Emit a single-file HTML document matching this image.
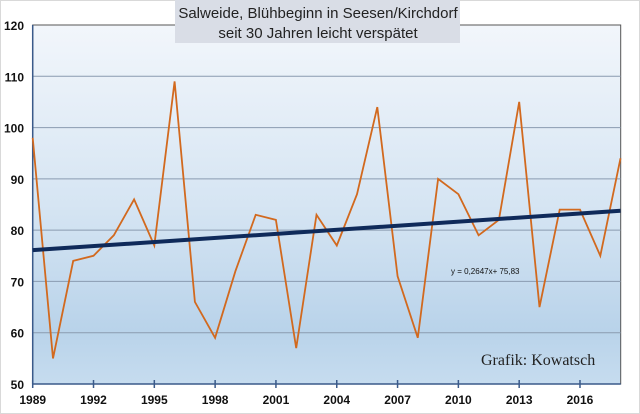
<!DOCTYPE html>
<html><head><meta charset="utf-8"><style>
html,body{margin:0;padding:0;background:#fff}
svg{display:block;font-family:"Liberation Sans",sans-serif}
</style></head><body>
<svg width="640" height="414" viewBox="0 0 640 414">
<defs><linearGradient id="bg" x1="0" y1="0" x2="0" y2="1"><stop offset="0" stop-color="#f2f6fb"/><stop offset="0.5" stop-color="#d6e5f3"/><stop offset="0.85" stop-color="#b9d3ea"/><stop offset="1" stop-color="#c6dcef"/></linearGradient></defs>
<rect x="0.5" y="0.5" width="639" height="413" fill="#fff" stroke="#d9d9d9"/>
<rect x="32.7" y="25" width="588" height="359" fill="url(#bg)" stroke="#555" stroke-width="1"/>
<g id="grid"></g><g id="axes"></g><g id="series"></g>
<rect x="175" y="0" width="285" height="43" fill="#d9dde6"/>
<text x="318" y="18" text-anchor="middle" font-size="15" fill="#222" font-family="Liberation Sans, sans-serif">Salweide, Blühbeginn in Seesen/Kirchdorf</text>
<text x="318" y="38" text-anchor="middle" font-size="15" fill="#222">seit 30 Jahren leicht verspätet</text>
<text x="481" y="365" font-size="16" fill="#222" font-family="Liberation Serif, serif">Grafik: Kowatsch</text>
<text x="451" y="274" font-size="8" fill="#111">y = 0,2647x+ 75,83</text>
</svg>
<script>
const years=[1989,1990,1991,1992,1993,1994,1995,1996,1997,1998,1999,2000,2001,2002,2003,2004,2005,2006,2007,2008,2009,2010,2011,2012,2013,2014,2015,2016,2017,2018];
const values=[98,55,74,75,79,86,77,109,66,59,72,83,82,57,83,77,87,104,71,59,90,87,79,82,105,65,84,84,75,94];
const yTicks=[50,60,70,80,90,100,110,120];
const xTickLabels=[1989,1992,1995,1998,2001,2004,2007,2010,2013,2016];
const trendSlope=0.2647, trendIntercept=75.83;
const NS='http://www.w3.org/2000/svg';
const X=y=>32.7+(y-1989)*20.27;
const Y=v=>384-(v-50)*5.1286;
function mk(t,a,p){const e=document.createElementNS(NS,t);for(const k in a)e.setAttribute(k,a[k]);p.appendChild(e);return e;}
const g=document.getElementById('grid'),ax=document.getElementById('axes'),s=document.getElementById('series');
yTicks.forEach(v=>{
 if(v>50&&v<120){const l=mk('line',{x1:32.7,x2:620.7,y1:Y(v),y2:Y(v),stroke:'#8a9bb0','stroke-width':1},g);
 
 }
 const t=mk('text',{x:24,y:Y(v)+5,'text-anchor':'end','font-size':12,'font-weight':'bold',fill:'#111'},ax);t.textContent=v;
 
 
});
const yl=mk('line',{x1:32.7,x2:32.7,y1:25,y2:384,stroke:'#3a5a8a','stroke-width':1.5},ax);


const xl=mk('line',{x1:32.7,x2:620.7,y1:384,y2:384,stroke:'#3a5a8a','stroke-width':1.5},ax);


xTickLabels.forEach(y=>{
 const tk=mk('line',{x1:X(y),x2:X(y),y1:380,y2:388,stroke:'#3a5a8a','stroke-width':1.5},ax);
 
 
 const t=mk('text',{x:X(y),y:404,'text-anchor':'middle','font-size':12,'font-weight':'bold',fill:'#111'},ax);t.textContent=y;
 
 
});
const pts=years.map((y,i)=>X(y).toFixed(1)+','+Y(values[i]).toFixed(1)).join(' ');
const pl=mk('polyline',{points:pts,fill:'none',stroke:'#d2691e','stroke-width':1.8,'stroke-linejoin':'miter'},s);


const y0=years[0],y1=years[years.length-1];
const tr=mk('line',{x1:X(y0),y1:Y(trendIntercept+trendSlope*1),x2:X(y1),y2:Y(trendIntercept+trendSlope*(y1-y0+1)),stroke:'#0f2a5a','stroke-width':4},s);


</script>
</body></html>
